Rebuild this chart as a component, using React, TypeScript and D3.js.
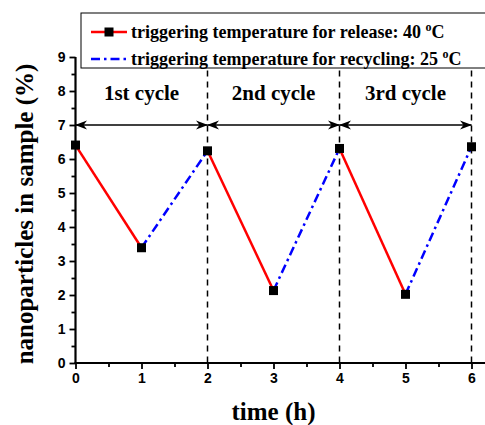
import React, { useEffect, useRef } from 'react'
import * as d3 from 'd3'

const timeH = [0, 1, 2, 3, 4, 5, 6]
const particles = [6.41, 3.39, 6.24, 2.13, 6.31, 2.02, 6.36]
const cycleLabels = ['1st cycle', '2nd cycle', '3rd cycle']
const cycleBounds = [0, 2, 4, 6]
const xTicks = [0, 1, 2, 3, 4, 5, 6]
const yTicks = [0, 1, 2, 3, 4, 5, 6, 7, 8, 9]
const legendLabels = [
  'triggering temperature for release: 40 ',
  'triggering temperature for recycling: 25 ',
]

export default function App() {
  const axRef = useRef<SVGGElement>(null)

  const W = 485
  const H = 425
  const x = d3.scaleLinear().domain([0, 6]).range([75.5, 471.5])
  const y = d3.scaleLinear().domain([0, 9]).range([363, 57])

  useEffect(() => {
    const g = d3.select(axRef.current)
    g.selectAll('*').remove()

    const xa = g.append('g').attr('transform', `translate(0,${y(0)})`)
    xa.call(d3.axisBottom(x).tickValues(xTicks).tickSize(6).tickPadding(4).tickFormat(d3.format('d')))
    xa.append('g').call(
      d3.axisBottom(x).tickValues(xTicks.slice(0, -1).map(d => d + 0.5)).tickSize(4).tickFormat(() => '')
    )
    xa.selectAll('.domain').remove()
    xa.append('line').attr('x1', x(0) - 1).attr('x2', W).attr('stroke', '#000').attr('stroke-width', 2.2)

    const ya = g.append('g').attr('transform', `translate(${x(0)},0)`)
    ya.call(d3.axisLeft(y).tickValues(yTicks).tickSize(6).tickPadding(4).tickFormat(d3.format('d')))
    ya.append('g').call(
      d3.axisLeft(y).tickValues(yTicks.slice(0, -1).map(d => d + 0.5)).tickSize(4).tickFormat(() => '')
    )
    ya.selectAll('.domain').remove()
    ya.append('line').attr('y1', y(9)).attr('y2', y(0) + 1).attr('stroke', '#000').attr('stroke-width', 2.2)

    g.selectAll('.tick line').attr('stroke', '#000').attr('stroke-width', 1.8)
    g.selectAll('.tick text')
      .attr('fill', '#000')
      .style('font-family', '"Liberation Sans", Arial, sans-serif')
      .style('font-weight', 'bold')
      .style('font-size', '14px')
  }, [])

  const segs = timeH.slice(0, -1).map((t, i) => ({
    x1: x(t), y1: y(particles[i]), x2: x(timeH[i + 1]), y2: y(particles[i + 1]), release: i % 2 === 0,
  }))

  const serif = '"Liberation Serif", "Times New Roman", serif'

  return (
    <svg width={W} height={H} style={{ position: 'absolute', left: 0, top: 0, background: '#fff' }}>
      <defs>
        <marker id="arr" viewBox="0 0 12 10" refX="11.5" refY="5" markerWidth="12" markerHeight="10"
          markerUnits="userSpaceOnUse" orient="auto-start-reverse">
          <path d="M0,0.5 L12,5 L0,9.5 L3.5,5 Z" fill="#000" />
        </marker>
      </defs>

      {/* cycle separators */}
      {cycleBounds.slice(1).map(b => (
        <line key={b} x1={x(b)} x2={x(b)} y1={y(8.6)} y2={y(0)} stroke="#000" strokeWidth={1.5} strokeDasharray="6,5" />
      ))}

      {/* cycle arrows */}
      {cycleLabels.map((lab, i) => (
        <g key={lab}>
          <line x1={x(cycleBounds[i])} x2={x(cycleBounds[i + 1])} y1={y(7)} y2={y(7)}
            stroke="#000" strokeWidth={1.5} markerStart="url(#arr)" markerEnd="url(#arr)" />
          <text x={(x(cycleBounds[i]) + x(cycleBounds[i + 1])) / 2} y={y(7.75)} textAnchor="middle"
            style={{ fontFamily: serif, fontWeight: 'bold', fontSize: 21 }}>{lab}</text>
        </g>
      ))}

      {segs.map((s, i) => (
        <line key={i} x1={s.x1} y1={s.y1} x2={s.x2} y2={s.y2}
          stroke={s.release ? '#ff0000' : '#0000ff'} strokeWidth={2.5}
          strokeDasharray={s.release ? undefined : '9,4,2.5,4'} />
      ))}

      {timeH.map((t, i) => (
        <rect key={t} x={x(t) - 4.5} y={y(particles[i]) - 4.5} width={9} height={9} fill="#000" />
      ))}

      <g ref={axRef} />

      {/* legend */}
      <rect x={81} y={13} width={420} height={55} fill="#fff" stroke="#000" strokeWidth={1} />
      {legendLabels.map((lab, i) => {
        const ly = 32 + i * 27
        return (
          <g key={lab}>
            <line x1={91} x2={127} y1={ly} y2={ly} stroke={i === 0 ? '#ff0000' : '#0000ff'} strokeWidth={2.5}
              strokeDasharray={i === 0 ? undefined : '9,4,2.5,4'} />
            {i === 0 && <rect x={104.5} y={ly - 4.5} width={9} height={9} fill="#000" />}
            <text x={131} y={ly + 6} style={{ fontFamily: serif, fontWeight: 'bold', fontSize: 18 }}>
              {lab}
              <tspan dy={-7} fontSize={12}>o</tspan>
              <tspan dy={7}>C</tspan>
            </text>
          </g>
        )
      })}

      <text x={(x(0) + x(6)) / 2} y={420} textAnchor="middle"
        style={{ fontFamily: serif, fontWeight: 'bold', fontSize: 25 }}>time (h)</text>
      <text transform={`translate(33,${(y(0) + y(9)) / 2 + 4}) rotate(-90)`} textAnchor="middle"
        style={{ fontFamily: serif, fontWeight: 'bold', fontSize: 25 }}>nanoparticles in sample (%)</text>
    </svg>
  )
}
